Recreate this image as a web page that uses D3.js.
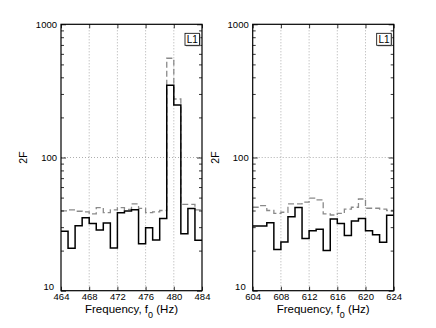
<!DOCTYPE html>
<html><head><meta charset="utf-8">
<script src="https://cdn.jsdelivr.net/npm/d3@7"></script>
<style>
html,body{margin:0;padding:0;background:#fff;}
text{font-family:"Liberation Sans",Arial,sans-serif;}
</style></head>
<body><svg id="c" width="436" height="328"></svg>
<script>
// ---- data ----
const leftFreq = [464,465,466,467,468,469,470,471,472,473,474,475,476,477,478,479,480,481,482,483];
const leftSolid = [28,20.8,30.8,35.3,32,28.5,32.2,20.9,38.5,39.7,40.6,22.5,29.7,24,34.9,348,248,26.8,41.5,23.9];
const leftDashed = [39.7,40.4,39.5,39,37.7,42,38.5,40.5,42,40.8,44.8,41.5,38.5,39,40,556,275,44.5,44.5,40.5];
const rightFreq = [604,605,606,607,608,609,610,611,612,613,614,615,616,617,618,619,620,621,622,623];
const rightSolid = [30.6,30.6,32.4,20.4,23.2,35.9,42.2,24.7,28.2,28.9,20.0,34.5,32.0,26.0,33.3,34.9,28.2,26.3,23.1,36.8];
const rightDashed = [42.3,43.5,40,38.1,38.8,44.8,44.8,46.2,49.5,48,37.7,37,38,41,42.3,48.8,41.6,41.6,41,40];
const leftTicks = [464,468,472,476,480,484];
const rightTicks = [604,608,612,616,620,624];
const yTicks = [10,100,1000];
const yMinor = [20,30,40,50,60,70,80,90,200,300,400,500,600,700,800,900];
const legendLabel = "L1";
const yLabel = "2F";

const svg = d3.select("#c");
const yTop = 24.3, yBot = 290.7;

function panel(x0, x1, freq, solid, dashed, ticks, idx){
  const g = svg.append("g");
  const x = d3.scaleLinear().domain([ticks[0], ticks[ticks.length-1]]).range([x0, x1]);
  const y = d3.scaleLog().domain([10,1000]).range([yBot, yTop]);
  const clipId = "clip"+idx;
  g.append("clipPath").attr("id", clipId).append("rect")
    .attr("x", x0).attr("y", yTop).attr("width", x1-x0).attr("height", yBot-yTop);

  // grid
  g.selectAll(".vg").data(ticks.slice(1,-1)).join("line")
    .attr("x1", d=>x(d)).attr("x2", d=>x(d)).attr("y1", yTop).attr("y2", yBot)
    .attr("stroke", "#999").attr("stroke-width", 0.8).attr("stroke-dasharray", "1,2");
  g.append("line").attr("x1", x0).attr("x2", x1).attr("y1", y(100)).attr("y2", y(100))
    .attr("stroke", "#999").attr("stroke-width", 0.8).attr("stroke-dasharray", "1,2");

  const ptsOf = (vals) => { const p = freq.map((f,i)=>[f, vals[i]]); p.push([freq[freq.length-1]+1, vals[vals.length-1]]); return p; };
  const line = d3.line().x(d=>x(d[0])).y(d=>y(d[1])).curve(d3.curveStepAfter);
  g.append("path").attr("d", line(ptsOf(dashed))).attr("fill","none")
    .attr("stroke","#8a8a8a").attr("stroke-width",1.3).attr("stroke-dasharray","6,3")
    .attr("clip-path", `url(#${clipId})`);
  g.append("path").attr("d", line(ptsOf(solid))).attr("fill","none")
    .attr("stroke","#000").attr("stroke-width",1.5)
    .attr("clip-path", `url(#${clipId})`);

  // axes
  const fmt = d=>String(d);
  const ax = g.append("g").attr("transform", `translate(0,${yBot})`)
    .call(d3.axisBottom(x).tickValues(ticks).tickFormat(fmt).tickSize(-4).tickPadding(3));
  ax.select(".domain").remove();
  ax.selectAll("text").attr("font-size", 9.5).attr("fill","#000");
  const axT = g.append("g").attr("transform", `translate(0,${yTop})`)
    .call(d3.axisTop(x).tickValues(ticks).tickFormat("").tickSize(-4));
  axT.select(".domain").remove();

  const ay = g.append("g").attr("transform", `translate(${x0},0)`)
    .call(d3.axisLeft(y).tickValues(yTicks).tickFormat(fmt).tickSize(-5).tickPadding(4));
  ay.select(".domain").remove();
  ay.selectAll("text").attr("font-size", 9.5).attr("fill","#000");
  ay.selectAll(".tick").filter(d=>d===10).select("text").attr("dy","-0.1em").attr("dx","-3");
  const ayR = g.append("g").attr("transform", `translate(${x1},0)`)
    .call(d3.axisRight(y).tickValues(yTicks).tickFormat("").tickSize(-5));
  ayR.select(".domain").remove();
  [[x0, d3.axisLeft],[x1, d3.axisRight]].forEach(([xx, a])=>{
    const m = g.append("g").attr("transform", `translate(${xx},0)`)
      .call(a(y).tickValues(yMinor).tickFormat("").tickSize(-3));
    m.select(".domain").remove();
  });
  g.selectAll(".tick line").attr("stroke","#000").attr("stroke-width",0.8);

  g.append("rect").attr("x", x0).attr("y", yTop).attr("width", x1-x0).attr("height", yBot-yTop)
    .attr("fill","none").attr("stroke","#000").attr("stroke-width",1.2);

  // legend box
  const lx = x1-17, ly = yTop+9;
  g.append("rect").attr("x", lx+1).attr("y", ly+1).attr("width", 14.5).attr("height", 12)
    .attr("fill", "#999");
  g.append("rect").attr("x", lx).attr("y", ly).attr("width", 14.5).attr("height", 12)
    .attr("fill", "#fff").attr("stroke", "#000").attr("stroke-width", 0.8);
  g.append("text").attr("x", lx+7.25).attr("y", ly+10).attr("text-anchor","middle")
    .attr("font-size", 10).text(legendLabel);

  // labels
  g.append("text").attr("transform", `translate(${x0-34},${(yTop+yBot)/2}) rotate(-90)`)
    .attr("text-anchor","middle").attr("font-size", 10.5).text(yLabel);
  const t = g.append("text").attr("x", (x0+x1)/2).attr("y", 313).attr("text-anchor","middle")
    .attr("font-size", 11.5);
  t.append("tspan").text("Frequency, f");
  t.append("tspan").attr("dy", 5).attr("font-size", 9).text("0");
  t.append("tspan").attr("dy", -5).text(" (Hz)");
}

panel(61, 202, leftFreq, leftSolid, leftDashed, leftTicks, 0);
panel(252.7, 393.7, rightFreq, rightSolid, rightDashed, rightTicks, 1);
</script></body></html>
